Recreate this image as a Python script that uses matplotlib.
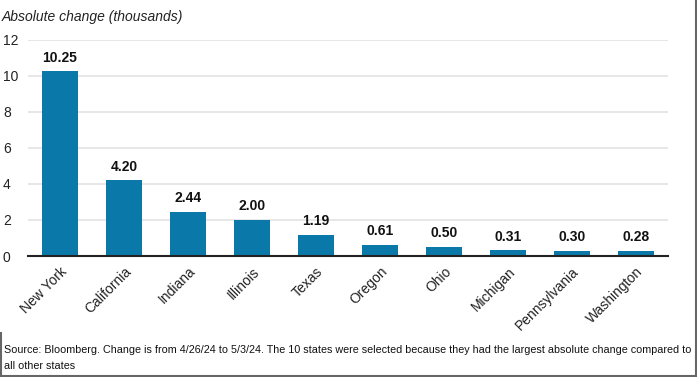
import matplotlib
matplotlib.use("Agg")
import matplotlib.pyplot as plt
from matplotlib.lines import Line2D

states = ["New York", "California", "Indiana", "Illinois", "Texas",
          "Oregon", "Ohio", "Michigan", "Pennsylvania", "Washington"]
values = [10.25, 4.20, 2.44, 2.00, 1.19, 0.61, 0.50, 0.31, 0.30, 0.28]
yticks = [0, 2, 4, 6, 8, 10, 12]

plt.rcParams['font.family'] = ['Liberation Sans', 'DejaVu Sans']

W, H = 697, 377
fig = plt.figure(figsize=(W / 100, H / 100), dpi=100)
ax = fig.add_axes([28 / W, 1 - 256 / H, 640 / W, 216 / H])

x = list(range(len(states)))
ax.bar(x, values, width=0.56, color="#0a79a9", zorder=3)
for xi, v in zip(x, values):
    ax.text(xi, v + 0.38, f"{v:.2f}", ha="center", va="bottom",
            fontsize=10, fontweight="bold", color="#111111")

ax.set_xlim(-0.5, len(states) - 0.5)
ax.set_ylim(0, 12)
ax.set_yticks(yticks)
ax.set_yticklabels([str(t) for t in yticks], fontsize=10, color="#222222")
ax.set_xticks(x)
ax.set_xticklabels(states, rotation=45, ha="right", rotation_mode="anchor",
                   fontsize=10, color="#222222")
ax.tick_params(axis="x", length=0, pad=6)
ax.tick_params(axis="y", length=0, pad=10)
for lab in ax.get_yticklabels():
    lab.set_horizontalalignment("left")
    lab.set_x(-0.0)
ax.yaxis.set_tick_params(pad=0)
for lab in ax.get_yticklabels():
    lab.set_transform(lab.get_transform() + matplotlib.transforms.ScaledTranslation(-25 / 100, 0, fig.dpi_scale_trans))
ax.grid(axis="y", color="#e3e3e3", linewidth=1.2, zorder=0)
for s in ["top", "right", "left"]:
    ax.spines[s].set_visible(False)
ax.spines["bottom"].set_color("#222222")
ax.spines["bottom"].set_linewidth(1.5)
ax.spines["bottom"].set_zorder(4)

fig.text(2 / W, 1 - 17 / H, "Absolute change (thousands)", fontsize=10,
         style="italic", va="center", ha="left", color="#222222")

fig.text(4 / W, 1 - 350 / H,
         "Source: Bloomberg. Change is from 4/26/24 to 5/3/24. The 10 states were selected because they had the largest absolute change compared to",
         fontsize=7.75, va="center", ha="left", color="#111111")
fig.text(4 / W, 1 - 366 / H, "all other states",
         fontsize=7.75, va="center", ha="left", color="#111111")

c = "#666666"
fig.add_artist(Line2D([1 / W, 1 / W], [1 - 333 / H, 1 - 376 / H], color=c, lw=1.5, transform=fig.transFigure))
fig.add_artist(Line2D([1 / W, 696 / W], [1 - 375.5 / H, 1 - 375.5 / H], color=c, lw=1.5, transform=fig.transFigure))
fig.add_artist(Line2D([695.5 / W, 695.5 / W], [1, 1 - 376 / H], color=c, lw=1.5, transform=fig.transFigure))

fig.savefig("out.png", dpi=100)
